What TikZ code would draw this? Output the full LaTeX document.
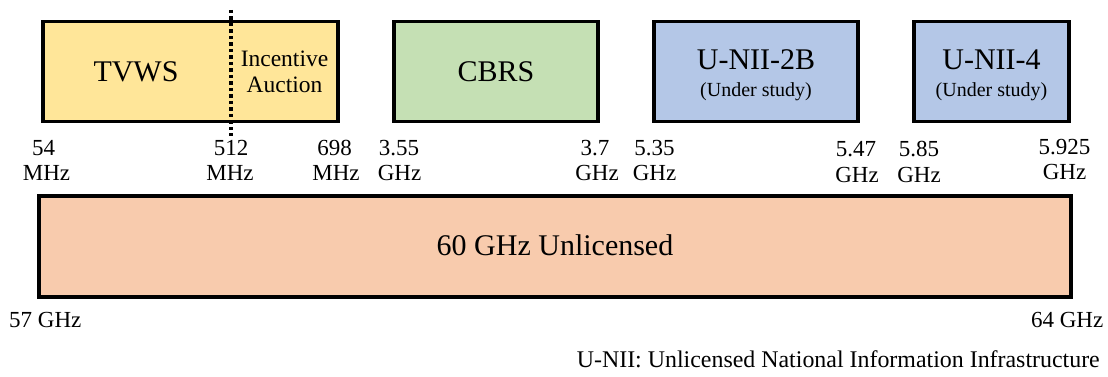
\documentclass[tikz,border=0pt]{standalone}
\usepackage{fontspec}
\setmainfont{Liberation Serif}
\definecolor{tvwsfill}{HTML}{FFE699}
\definecolor{cbrsfill}{HTML}{C5E0B4}
\definecolor{uniifill}{HTML}{B4C7E7}
\definecolor{sixtyfill}{HTML}{F8CBAD}
\begin{document}
\begin{tikzpicture}[x=1pt,y=-1pt,
  band/.style={draw=black,line width=3.4pt,inner sep=0pt,rectangle},
  bigtxt/.style={font=\fontsize{30}{30}\selectfont,inner sep=0pt,anchor=base},
  freqtxt/.style={font=\fontsize{23}{23}\selectfont,inner sep=0pt,anchor=base},
  subtxt/.style={font=\fontsize{20}{20}\selectfont,inner sep=0pt,anchor=base},
  inctxt/.style={font=\fontsize{23.5}{23.5}\selectfont,inner sep=0pt,anchor=base},
  foottxt/.style={font=\fontsize{23.9}{23.9}\selectfont,inner sep=0pt,anchor=base east}]
\useasboundingbox (0,0) rectangle (1108,377);
% boxes
\node[band,fill=tvwsfill,minimum width=295pt,minimum height=100pt] (tvws) at (190.5,71.5) {};
\node[band,fill=cbrsfill,minimum width=204pt,minimum height=100pt] (cbrs) at (496,71.5) {};
\node[band,fill=uniifill,minimum width=204pt,minimum height=100pt] (unii2b) at (756,71.5) {};
\node[band,fill=uniifill,minimum width=155pt,minimum height=100pt] (unii4) at (991.5,71.5) {};
\node[band,fill=sixtyfill,minimum width=1032pt,minimum height=101pt] (sixty) at (555,246.5) {};
% dotted separator
\coordinate (dtop) at (231,10);
\coordinate (dbot) at (231,136);
\draw[line width=3.6pt,dash pattern=on 3.5pt off 3pt] (dtop) -- (dbot);
% box texts
\node[bigtxt] (ttvws) at (136,82) {TVWS};
\node[inctxt] (tinc1) at (284.5,67) {Incentive};
\node[inctxt] (tinc2) at (284.5,93) {Auction};
\node[bigtxt] (tcbrs) at (496,82) {CBRS};
\node[bigtxt] (tunii2b) at (756,70) {U-NII-2B};
\node[subtxt] (sunii2b) at (756,97) {(Under study)};
\node[bigtxt] (tunii4) at (991.5,70) {U-NII-4};
\node[subtxt] (sunii4) at (991.5,97) {(Under study)};
\node[bigtxt] (tsixty) at (555,255) {60 GHz Unlicensed};
% frequency labels
\node[freqtxt] (f54) at (43.5,155) {54};
\node[freqtxt] (u54) at (46.5,180) {MHz};
\node[freqtxt] (f512) at (231,155) {512};
\node[freqtxt] (u512) at (230,180) {MHz};
\node[freqtxt] (f698) at (334.5,155) {698};
\node[freqtxt] (u698) at (336,180) {MHz};
\node[freqtxt] (f355) at (399,155) {3.55};
\node[freqtxt] (u355) at (399.5,180) {GHz};
\node[freqtxt] (f37) at (595,155) {3.7};
\node[freqtxt] (u37) at (597,180) {GHz};
\node[freqtxt] (f535) at (654.5,155) {5.35};
\node[freqtxt] (u535) at (654.5,180) {GHz};
\node[freqtxt] (f547) at (856,157) {5.47};
\node[freqtxt] (u547) at (857,182) {GHz};
\node[freqtxt] (f585) at (919,157) {5.85};
\node[freqtxt] (u585) at (919,182) {GHz};
\node[freqtxt] (f5925) at (1064.5,154) {5.925};
\node[freqtxt] (u5925) at (1064.5,179) {GHz};
\node[freqtxt,anchor=base west] (f57) at (9,327) {57 GHz};
\node[freqtxt,anchor=base east] (f64) at (1103.5,327) {64 GHz};
% footnote
\node[foottxt] (foot) at (1100,367) {U-NII: Unlicensed National Information Infrastructure};
\end{tikzpicture}
\end{document}
